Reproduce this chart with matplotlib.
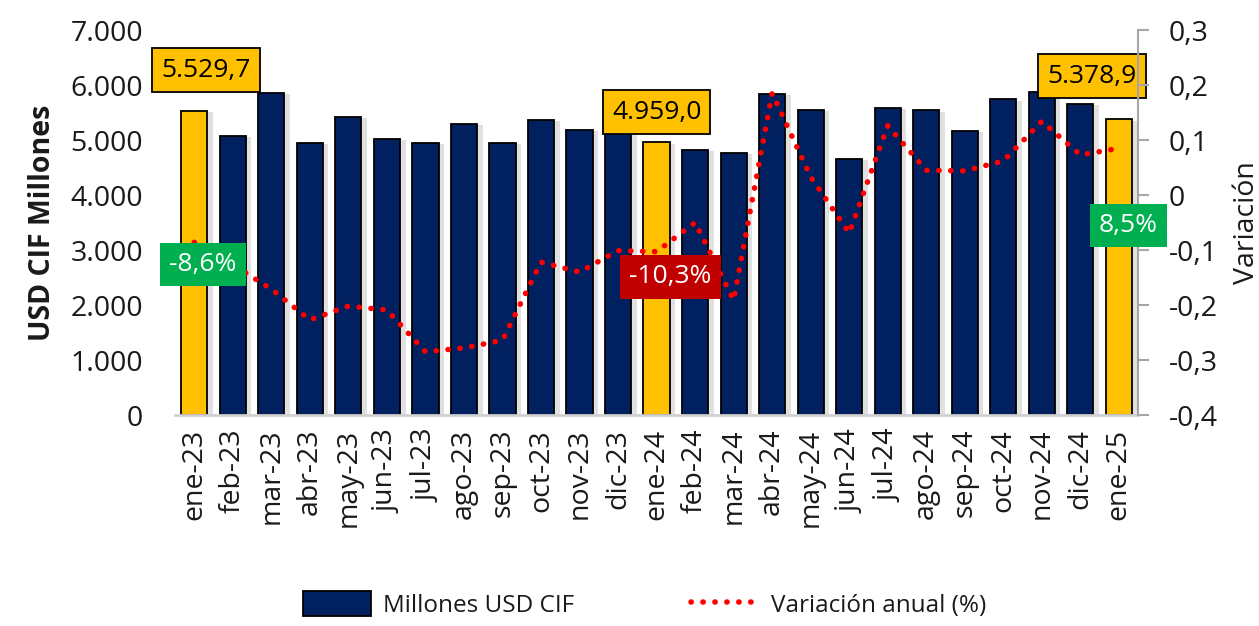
import matplotlib
matplotlib.use('Agg')
import matplotlib.pyplot as plt
import matplotlib.patheffects as pe
from matplotlib.patches import Patch
from matplotlib.lines import Line2D
from matplotlib.ticker import FuncFormatter, MultipleLocator

plt.rcParams['font.family'] = ['Open Sans', 'DejaVu Sans']

# Data
months = ['ene-23', 'feb-23', 'mar-23', 'abr-23', 'may-23', 'jun-23', 'jul-23',
          'ago-23', 'sep-23', 'oct-23', 'nov-23', 'dic-23', 'ene-24', 'feb-24',
          'mar-24', 'abr-24', 'may-24', 'jun-24', 'jul-24', 'ago-24', 'sep-24',
          'oct-24', 'nov-24', 'dic-24', 'ene-25']
millones = [5529.7, 5073, 5855, 4945, 5418, 5018, 4945, 5290, 4945, 5364, 5182,
            5200, 4959.0, 4818, 4764, 5840, 5545, 4660, 5588, 5540, 5170, 5740,
            5878, 5655, 5378.9]
variacion = [-0.086, -0.127, -0.171, -0.227, -0.202, -0.209, -0.285, -0.278,
             -0.264, -0.122, -0.140, -0.101, -0.103, -0.050, -0.191, 0.185,
             0.033, -0.069, 0.126, 0.045, 0.044, 0.062, 0.134, 0.073, 0.085]
highlight = ['ene-23', 'ene-24', 'ene-25']

NAVY = '#002060'
GOLD = '#FFC000'
GREEN = '#00B050'
DARKRED = '#C00000'
TXT = '#1a1a1a'


def fmt_thousands(v, _):
    return f'{v:,.0f}'.replace(',', '.')


def fmt_decimal(v, _):
    if abs(v) < 1e-9:
        return '0'
    return f'{v:.1f}'.replace('.', ',')


def fmt_label(v):
    return f'{v:,.1f}'.replace(',', 'X').replace('.', ',').replace('X', '.')


def fmt_pct(v):
    return f'{v * 100:.1f}%'.replace('.', ',')


fig = plt.figure(figsize=(12.59, 6.26), dpi=100)
ax = fig.add_axes([0.139, 0.337, 0.765, 0.615])
ax2 = ax.twinx()

x = list(range(len(months)))
colors = [GOLD if m in highlight else NAVY for m in months]
shadow = [pe.SimplePatchShadow(offset=(4, -1), shadow_rgbFace='#999999', alpha=0.3),
          pe.Normal()]
bars = ax.bar(x, millones, width=0.68, color=colors, edgecolor='black',
              linewidth=1.3, zorder=2)
for b in bars:
    b.set_path_effects(shadow)

dot_style = (0, (0.05, 2.1))
ax2.plot(x, variacion, color='#FF0000', linewidth=4.0,
         linestyle=dot_style, dash_capstyle='round', zorder=3)

# axis setup
ax.set_xlim(-0.5, len(months) - 0.5)
ax.set_ylim(0, 7000)
ax2.set_ylim(-0.4, 0.3)
ax.yaxis.set_major_locator(MultipleLocator(1000))
ax2.yaxis.set_major_locator(MultipleLocator(0.1))
ax.yaxis.set_major_formatter(FuncFormatter(fmt_thousands))
ax2.yaxis.set_major_formatter(FuncFormatter(fmt_decimal))

ax.set_xticks(x)
ax.set_xticklabels(months, rotation=90, fontsize=20.5, color=TXT)
ax.tick_params(axis='x', length=0, pad=10)
ax.tick_params(axis='y', length=0, labelsize=20.5, labelcolor=TXT, pad=23)
ax2.tick_params(axis='y', length=8, width=1.5, color='#A6A6A6', labelsize=20.5,
                labelcolor=TXT, pad=14)

for s in ['top', 'left', 'right']:
    ax.spines[s].set_visible(False)
ax.spines['bottom'].set_color('#D0D0D0')
ax.spines['bottom'].set_linewidth(2)
for s in ['top', 'left', 'bottom']:
    ax2.spines[s].set_visible(False)
ax2.spines['right'].set_color('#A6A6A6')
ax2.spines['right'].set_linewidth(1.5)

ax.set_ylabel('USD CIF Millones', fontsize=20.5, fontweight='bold', color=TXT, labelpad=10)
ax2.set_ylabel('Variación', fontsize=20.5, color=TXT, rotation=90, labelpad=11)

# value labels for highlighted months
gold_offsets = {'ene-23': (0.31, 740), 'ene-24': (0.0, 550), 'ene-25': (-0.7, 785)}
pct_offsets = {'ene-23': (0.23, -0.04), 'ene-24': (0.36, -0.046), 'ene-25': (0.25, -0.14)}
for m in highlight:
    i = months.index(m)
    dx, dy = gold_offsets[m]
    ax.text(i + dx, millones[i] + dy, fmt_label(millones[i]), fontsize=19,
            ha='center', va='center', color='black', zorder=6,
            bbox=dict(boxstyle='square,pad=0.35', facecolor=GOLD,
                      edgecolor='black', linewidth=1.3))
    dx, dy = pct_offsets[m]
    box_col = GREEN if variacion[i] > -0.1 else DARKRED
    ax2.text(i + dx, variacion[i] + dy, fmt_pct(variacion[i]), fontsize=19,
             ha='center', va='center', color='white', zorder=6,
             bbox=dict(boxstyle='square,pad=0.35', facecolor=box_col,
                       edgecolor='none'))

# legend
handles = [Patch(facecolor=NAVY, edgecolor='black', linewidth=1.3),
           Line2D([0], [0], color='#FF0000', linewidth=4.0,
                  linestyle=dot_style, dash_capstyle='round')]
fig.legend(handles, ['Millones USD CIF', 'Variación anual (%)'], loc='lower center',
           bbox_to_anchor=(0.512, -0.022), ncol=2, frameon=False, fontsize=17.5,
           handlelength=2.8, handleheight=1.2, columnspacing=4.8, handletextpad=0.5,
           labelcolor=TXT)

fig.savefig('out.png', dpi=100)
